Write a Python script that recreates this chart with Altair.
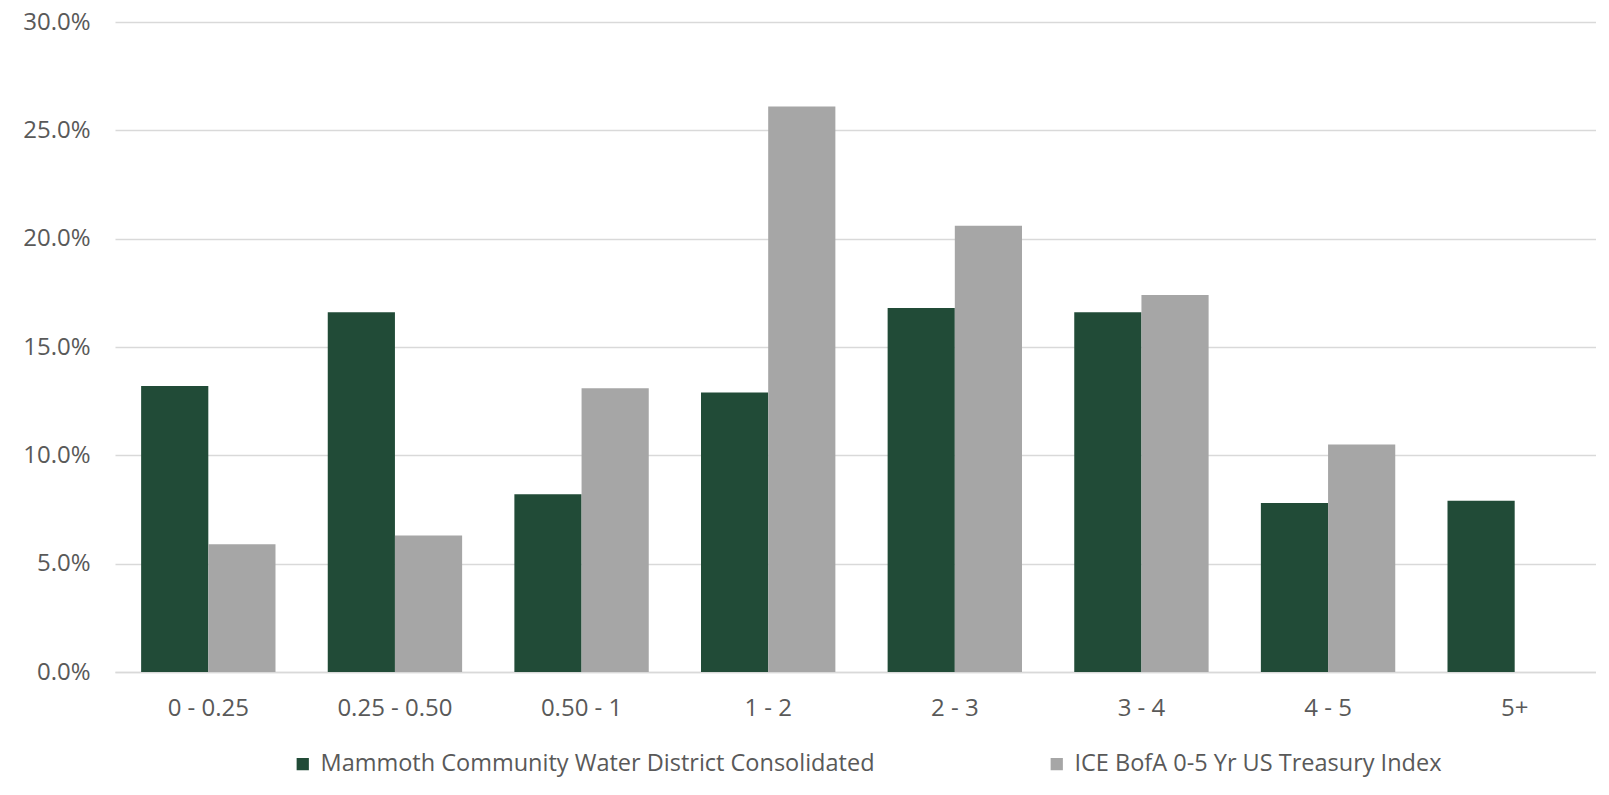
import altair as alt
import pandas as pd

categories = ["0 - 0.25", "0.25 - 0.50", "0.50 - 1", "1 - 2", "2 - 3", "3 - 4", "4 - 5", "5+"]
series_names = ["Mammoth Community Water District Consolidated", "ICE BofA 0-5 Yr US Treasury Index"]
mammoth = [13.2, 16.6, 8.2, 12.9, 16.8, 16.6, 7.8, 7.9]
ice = [5.9, 6.3, 13.1, 26.1, 20.6, 17.4, 10.5, 0.0]
colors = ["#214B37", "#A6A6A6"]

rows = []
for c, m, i in zip(categories, mammoth, ice):
    rows.append({"cat": c, "series": series_names[0], "val": m / 100})
    rows.append({"cat": c, "series": series_names[1], "val": i / 100})
df = pd.DataFrame(rows)

FONT = "Open Sans"
TXT = "#595959"

chart = alt.Chart(df).mark_bar().encode(
    x=alt.X("cat:N", sort=categories, title=None,
            scale=alt.Scale(paddingInner=0.28, paddingOuter=0.14, range=[0, 1493]),
            axis=alt.Axis(labelAngle=0, ticks=False, domainColor="#D9D9D9", domainWidth=1.5,
                          labelFontSize=24, labelColor=TXT, labelFont=FONT, labelPadding=24)),
    xOffset=alt.XOffset("series:N", sort=series_names, scale=alt.Scale(paddingInner=0, paddingOuter=0)),
    y=alt.Y("val:Q", title=None,
            scale=alt.Scale(domain=[0, 0.30], nice=False),
            axis=alt.Axis(format=".1%", values=[0, 0.05, 0.10, 0.15, 0.20, 0.25, 0.30],
                          ticks=False, domain=False, gridColor="#D9D9D9", gridWidth=1.5,
                          labelFontSize=24, labelColor=TXT, labelFont=FONT, labelPadding=25)),
    color=alt.Color("series:N", sort=series_names,
                    scale=alt.Scale(domain=series_names, range=colors),
                    legend=alt.Legend(title=None, orient="none", legendX=176, legendY=730,
                                      direction="horizontal", columns=2, columnPadding=170,
                                      symbolType="square", symbolSize=150, symbolStrokeWidth=0,
                                      labelFontSize=23.5, labelColor=TXT, labelFont=FONT,
                                      labelLimit=0, labelOffset=6)),
).properties(
    width=1481, height=650,
    autosize=alt.AutoSizeParams(type="none"),
    padding={"left": 107, "top": 14, "right": 0, "bottom": 106},
).configure_view(stroke=None)

chart.save("out.html", embed_options={"renderer": "svg", "actions": False})
